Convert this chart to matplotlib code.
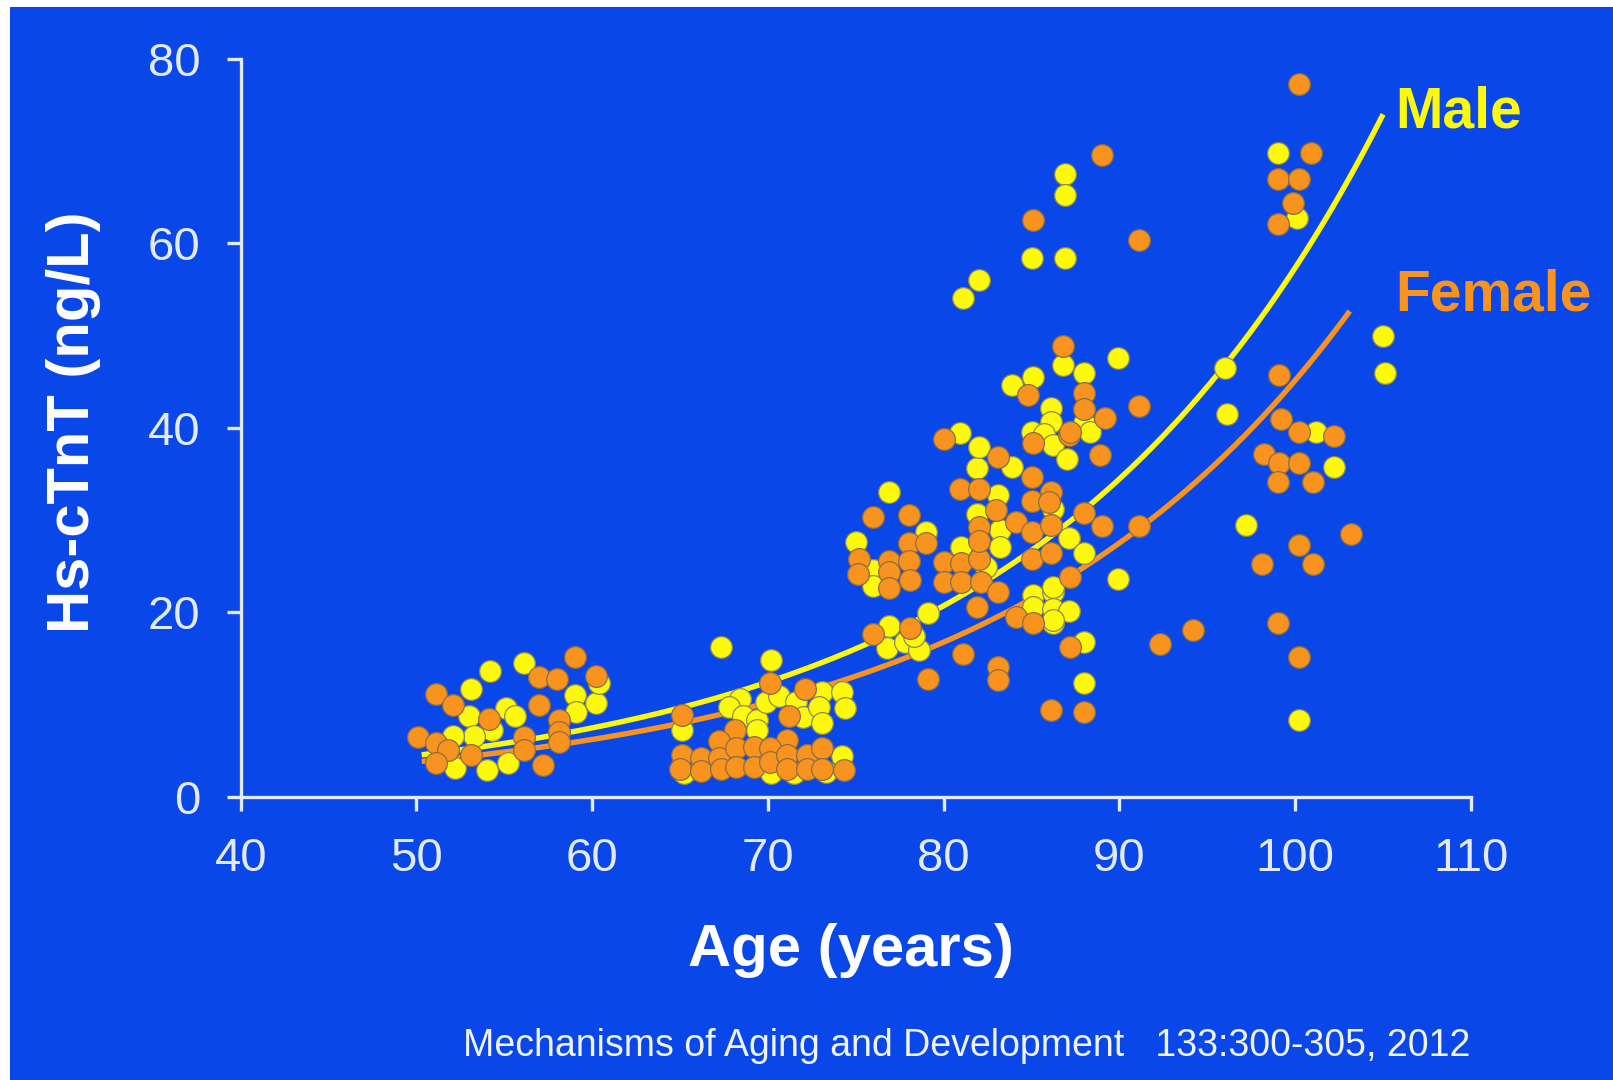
import numpy as np
import matplotlib.pyplot as plt
from matplotlib.patches import Rectangle

# ---------------------------
# data
# ---------------------------
male_age = [54.2, 56.1, 53.1, 53.0, 55.1, 55.6, 54.3, 53.3, 52.1, 52.2, 54.0, 55.2, 59.0, 59.1, 60.2, 60.4,
            67.3, 70.2, 65.1, 68.4, 67.8, 68.6, 69.4, 69.4, 69.9, 70.6, 71.6, 72.0, 73.1, 74.2, 72.9, 74.4,
            73.1, 74.2, 70.2, 65.2, 71.5, 73.3,
            76.9, 75.0, 76.0, 76.0, 79.0, 81.0, 82.4, 81.9, 83.1, 83.2, 83.2, 81.9, 83.9, 79.1, 76.9, 76.8,
            77.8, 78.6, 78.3, 85.1, 86.2, 85.1, 86.2, 86.2,
            82.0, 81.1, 85.0, 86.9, 86.9, 86.9, 89.9, 86.8, 83.9, 85.1, 88.0, 86.1, 86.1, 88.0, 88.3, 80.9,
            82.0, 85.0, 85.7, 86.2, 86.2, 87.1, 88.0, 89.9, 86.2, 87.0, 88.0, 88.0, 87.1, 86.2,
            96.0, 96.1, 97.2, 99.0, 100.1, 101.2, 102.2, 100.2, 105.0, 105.1]
male_val = [13.7, 14.5, 11.7, 8.8, 9.6, 8.8, 7.3, 6.6, 6.6, 3.1, 2.9, 3.7, 11.0, 9.2, 10.2, 12.3,
            16.2, 14.8, 7.3, 10.6, 9.8, 8.8, 8.3, 7.3, 10.3, 10.9, 10.3, 8.7, 11.4, 11.4, 9.8, 9.6,
            8.0, 4.4, 2.6, 2.6, 2.6, 2.7,
            33.0, 27.6, 24.6, 22.9, 28.7, 27.1, 24.9, 30.7, 32.7, 28.9, 27.1, 35.6, 35.7, 19.9, 18.5, 16.1,
            16.8, 15.9, 17.4, 21.9, 22.2, 20.6, 20.4, 18.8,
            56.0, 54.1, 58.4, 58.4, 67.5, 65.2, 47.6, 46.8, 44.6, 45.5, 45.9, 42.1, 40.6, 40.5, 39.5, 39.4,
            37.9, 39.5, 39.3, 38.1, 31.2, 28.1, 26.4, 23.6, 22.7, 36.6, 16.8, 12.3, 20.2, 19.2,
            46.5, 41.5, 29.5, 69.8, 62.7, 39.5, 35.7, 8.3, 50.0, 45.9]

female_age = [50.1, 51.1, 52.1, 51.1, 51.8, 51.1, 53.1, 54.1, 57.0, 58.0, 59.0, 57.0, 56.1, 56.1, 57.2,
              58.1, 58.1, 58.1, 60.2,
              65.1, 70.1, 72.1, 71.2, 68.1, 67.2, 71.1, 65.1, 65.0, 66.2, 66.2, 67.2, 67.3, 68.2, 68.2,
              69.2, 69.2, 70.1, 70.1, 71.1, 71.1, 72.2, 72.2, 73.1, 73.1, 74.3,
              76.0, 78.0, 75.2, 75.1, 76.9, 76.9, 76.9, 78.0, 78.0, 78.1, 79.0, 80.0, 80.0, 81.0, 81.0,
              82.0, 82.1, 82.0, 82.0, 80.9, 82.0, 83.0, 84.1, 85.0, 85.0, 85.0, 86.1, 86.1, 86.1, 85.0,
              83.1, 81.9, 84.1, 85.1, 78.1, 76.0, 81.1, 79.1, 83.1, 83.1, 86.1,
              86.8, 84.8, 88.0, 88.0, 89.2, 80.0, 87.1, 85.1, 83.1, 88.9, 85.1, 89.0, 91.1, 91.1, 87.2,
              88.0, 89.0, 91.1, 87.2, 87.2, 88.0, 92.3, 94.2, 86.0,
              100.2, 100.9, 99.0, 100.2, 99.9, 99.0, 99.1, 99.2, 100.2, 102.2, 98.2, 99.1, 100.2, 99.0,
              101.0, 103.2, 100.2, 98.1, 101.0, 99.0, 100.2]
female_val = [6.5, 11.2, 10.0, 5.8, 5.1, 3.7, 4.5, 8.5, 13.0, 12.8, 15.2, 10.0, 6.5, 5.1, 3.5,
              8.3, 7.0, 6.0, 13.1,
              8.9, 12.3, 11.7, 8.8, 7.3, 6.1, 6.2, 4.5, 3.0, 4.2, 2.8, 4.2, 3.0, 5.3, 3.3,
              5.4, 3.3, 5.3, 3.8, 4.5, 3.0, 4.5, 3.0, 5.3, 3.0, 2.9,
              30.3, 30.5, 25.8, 24.2, 25.6, 24.4, 22.6, 27.5, 25.6, 23.5, 27.5, 25.5, 23.3, 25.3, 23.3,
              25.8, 23.3, 29.3, 27.7, 33.4, 33.4, 31.1, 29.8, 32.1, 28.7, 25.8, 33.0, 29.5, 26.4, 34.7,
              22.2, 20.6, 19.5, 18.8, 18.3, 17.7, 15.5, 12.8, 14.1, 12.7, 9.4,
              48.9, 43.5, 43.8, 42.0, 41.1, 38.8, 39.2, 38.3, 36.8, 37.0, 62.5, 69.6, 60.4, 42.4, 39.5,
              30.8, 29.4, 29.4, 23.8, 16.2, 9.2, 16.6, 18.1, 32.0,
              77.2, 69.8, 67.0, 67.0, 64.4, 62.1, 45.7, 41.0, 39.5, 39.1, 37.2, 36.2, 36.2, 34.1,
              34.1, 28.5, 27.3, 25.2, 25.2, 18.9, 15.2]

# exponential fit lines as drawn on the slide: value = a * exp(b * (age - 50))
male_fit = {"a": 4.5, "b": 0.0509, "start": 50.3, "end": 105.0}
female_fit = {"a": 3.8, "b": 0.0495, "start": 50.3, "end": 103.1}

x_ticks = [40, 50, 60, 70, 80, 90, 100, 110]
y_ticks = [0, 20, 40, 60, 80]

# ---------------------------
# colours
# ---------------------------
bg_blue = "#0a47e8"
yellow = "#fcfa0a"
orange = "#f7931e"
axis_white = "#e4eaf5"

W, H = 1613, 1080
fig = plt.figure(figsize=(W / 100, H / 100), dpi=100, facecolor="white")
bg = Rectangle((10 / W, 0), 1 - 10 / W, 1 - 7 / H, transform=fig.transFigure,
               facecolor=bg_blue, edgecolor="none")
bg.set_zorder(-10)
fig.patches.append(bg)

ax = fig.add_axes([240.7 / W, 1 - 797 / H, (1471 - 240.7) / W, (797 - 58.6) / H])
ax.set_zorder(1)
ax.set_facecolor("none")
ax.set_xlim(40, 110)
ax.set_ylim(0, 80)

# fit curves
for fit, col in [(male_fit, yellow), (female_fit, orange)]:
    xs = np.linspace(fit["start"], fit["end"], 200)
    ax.plot(xs, fit["a"] * np.exp(fit["b"] * (xs - 50)), color=col, lw=3.9,
            solid_capstyle="butt", zorder=2, clip_on=False)

# scatter points
ax.scatter(male_age, male_val, s=245, color=yellow, edgecolors="#8c8a55", linewidths=0.9,
           zorder=3, clip_on=False)
ax.scatter(female_age, female_val, s=245, color=orange, edgecolors="#8c6e45", linewidths=0.9,
           zorder=4, clip_on=False)

# axes styling
for side in ["top", "right"]:
    ax.spines[side].set_visible(False)
for side in ["left", "bottom"]:
    ax.spines[side].set_color(axis_white)
    ax.spines[side].set_linewidth(2.4)
ax.set_xticks(x_ticks)
ax.set_yticks(y_ticks)
ax.tick_params(axis="both", direction="out", length=10, width=2.4, color=axis_white,
               labelcolor=axis_white, labelsize=34, pad=19)
for lab in ax.get_xticklabels() + ax.get_yticklabels():
    lab.set_fontfamily("Liberation Sans")

# series labels
ax.text(105.7, 74.2, "Male", color=yellow, fontsize=41, fontweight="bold",
        family="Liberation Sans", ha="left", va="center", clip_on=False)
ax.text(105.7, 54.3, "Female", color=orange, fontsize=41, fontweight="bold",
        family="Liberation Sans", ha="left", va="center", clip_on=False)

# axis titles
fig.text(74 / W, 1 - 422 / H, "Hs-cTnT (ng/L)", rotation=90, color="white", fontsize=43,
         fontweight="bold", family="Liberation Sans", ha="center", va="center")
fig.text(851 / W, 1 - 951 / H, "Age (years)", color="white", fontsize=43,
         fontweight="bold", family="Liberation Sans", ha="center", va="center")

# citation
fig.text(967 / W, 1 - 1046 / H, "Mechanisms of Aging and Development   133:300-305, 2012",
         color="#f0f3fa", fontsize=27, family="Liberation Sans",
         ha="center", va="center")

fig.savefig("out.png", dpi=100, facecolor="white")
